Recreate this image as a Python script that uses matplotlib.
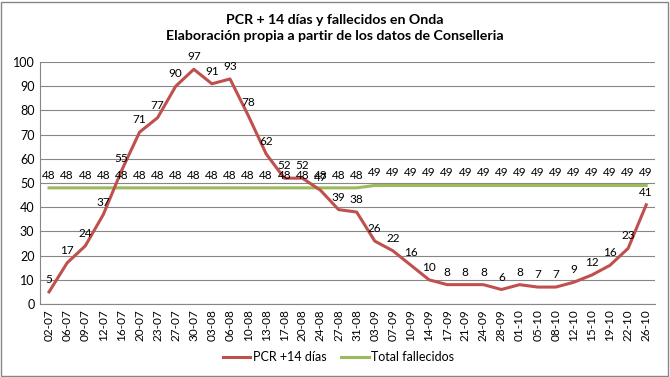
import numpy as np
import matplotlib
matplotlib.use('Agg')
import matplotlib.pyplot as plt
from matplotlib.patches import Rectangle

fechas = ['02-07', '06-07', '09-07', '12-07', '16-07', '20-07', '23-07', '27-07',
          '30-07', '03-08', '06-08', '10-08', '13-08', '17-08', '20-08', '24-08',
          '27-08', '31-08', '03-09', '07-09', '10-09', '14-09', '17-09', '21-09',
          '24-09', '28-09', '01-10', '05-10', '08-10', '12-10', '15-10', '19-10',
          '22-10', '26-10']
pcr = [5, 17, 24, 37, 55, 71, 77, 90, 97, 91, 93, 78, 62, 52, 52, 47, 39, 38,
       26, 22, 16, 10, 8, 8, 8, 6, 8, 7, 7, 9, 12, 16, 23, 41]
fallecidos = [48]*18 + [49]*16

titulo = 'PCR + 14 días y fallecidos en Onda\nElaboración propia a partir de los datos de Conselleria'

plt.rcParams['font.family'] = ['Lato', 'DejaVu Sans']

rojo = '#C0504D'
verde = '#9BBB59'

fig = plt.figure(figsize=(6.7, 3.77), dpi=100)
ax = fig.add_axes([0.0597, 0.1936, 0.9183, 0.6419])

x = np.arange(len(fechas))
ax.plot(x, pcr, '-', color=rojo, lw=2.2, label='PCR +14 días', zorder=3)
ax.plot(x, fallecidos, '-', color=verde, lw=2.2, label='Total fallecidos', zorder=2)

for xi, v in zip(x, pcr):
    ax.annotate(str(v), (xi, v), xytext=(0, 5), textcoords='offset points',
                ha='center', va='bottom', fontsize=8.5)
for xi, v in zip(x, fallecidos):
    ax.annotate(str(v), (xi, v), xytext=(0, 5), textcoords='offset points',
                ha='center', va='bottom', fontsize=8.5)

ax.set_xlim(-0.5, len(fechas) - 0.5)
ax.set_ylim(0, 100)
ax.set_yticks(np.arange(0, 101, 10))
ax.set_xticks(x)
ax.set_xticklabels(fechas, rotation=90, fontsize=8.5)
ax.tick_params(axis='y', labelsize=9, length=0, pad=4)
ax.tick_params(axis='x', length=0, pad=4)
ax.grid(axis='y', color='#868686', lw=0.8)
ax.set_axisbelow(True)
for s in ['top', 'right']:
    ax.spines[s].set_visible(False)
ax.spines['left'].set_color('#868686')
ax.spines['bottom'].set_color('#868686')

fig.text(0.5, 0.963, titulo, ha='center', va='top', fontsize=10.2,
         fontweight='bold', linespacing=1.45)

fig.legend(loc='center', bbox_to_anchor=(0.505, 0.053), ncol=2, frameon=False,
           fontsize=9, handlelength=2.2, columnspacing=1.2, handletextpad=0.2)

fig.patches.append(Rectangle((0.002, 0.003), 0.995, 0.993, transform=fig.transFigure,
                             fill=False, edgecolor='#868686', lw=1))

fig.savefig('out.png', dpi=100)
